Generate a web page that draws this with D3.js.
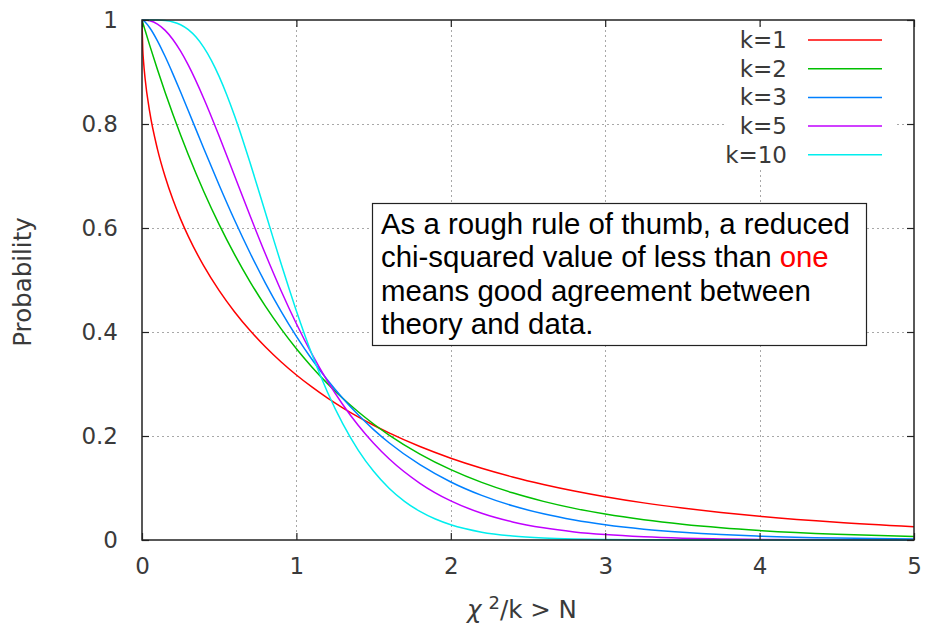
<!DOCTYPE html>
<html>
<head>
<meta charset="utf-8">
<script src="https://cdn.jsdelivr.net/npm/d3@7"></script>
<style>
  html, body { margin: 0; padding: 0; background: #fff; }
  svg { display: block; }
</style>
</head>
<body>
<svg id="chart" width="927" height="631"></svg>
<script>
// P(chi^2/k > N) for several degrees of freedom k
const nGrid = [0, 0.005, 0.01, 0.02, 0.05, 0.1, 0.15, 0.2, 0.25, 0.3,
  0.4, 0.5, 0.6, 0.7, 0.8, 0.9, 1.0, 1.1, 1.2, 1.3, 1.4, 1.5, 1.6,
  1.8, 2.0, 2.2, 2.4, 2.6, 2.8, 3.0,
  3.25, 3.5, 3.75, 4.0, 4.5, 5.0];

const probK1 = [1, 0.9436, 0.9203, 0.8875, 0.8231, 0.7518, 0.6985, 0.6547, 0.6171, 0.5839,
  0.5271, 0.4795, 0.4386, 0.4028, 0.3711, 0.3428, 0.3173, 0.2943, 0.2733, 0.2542, 0.2367, 0.2207, 0.2059,
  0.1797, 0.1573, 0.1380, 0.1213, 0.1069, 0.0943, 0.0833,
  0.0714, 0.0614, 0.0528, 0.0455, 0.0339, 0.0253];

const probK2 = [1, 0.9950, 0.9900, 0.9802, 0.9512, 0.9048, 0.8607, 0.8187, 0.7788, 0.7408,
  0.6703, 0.6065, 0.5488, 0.4966, 0.4493, 0.4066, 0.3679, 0.3329, 0.3012, 0.2725, 0.2466, 0.2231, 0.2019,
  0.1653, 0.1353, 0.1108, 0.0907, 0.0743, 0.0608, 0.0498,
  0.0388, 0.0302, 0.0235, 0.0183, 0.0111, 0.0067];

const probK3 = [1, 0.9995, 0.9986, 0.9962, 0.9852, 0.9600, 0.9297, 0.8964, 0.8614, 0.8254,
  0.7530, 0.6823, 0.6149, 0.5519, 0.4936, 0.4402, 0.3916, 0.3476, 0.3080, 0.2725, 0.2407, 0.2123, 0.1870,
  0.1448, 0.1116, 0.0858, 0.0658, 0.0503, 0.0384, 0.0293,
  0.0208, 0.0148, 0.0104, 0.0074, 0.0037, 0.0018];

const probK5 = [1, 1, 1, 0.9998, 0.9985, 0.9921, 0.9801, 0.9626, 0.9400, 0.9131,
  0.8491, 0.7765, 0.7000, 0.6234, 0.5494, 0.4799, 0.4159, 0.3579, 0.3062, 0.2606, 0.2206, 0.1860, 0.1562,
  0.1091, 0.0752, 0.0514, 0.0348, 0.0234, 0.0156, 0.0104,
  0.0062, 0.0036, 0.0021, 0.0012, 0.0004, 0.0001];

const nGridK10 = [0, 0.05, 0.1, 0.15, 0.2, 0.25, 0.3, 0.35, 0.4, 0.45, 0.5, 0.55, 0.6, 0.65,
  0.7, 0.75, 0.8, 0.85, 0.9, 0.95, 1.0, 1.1, 1.2, 1.3, 1.4, 1.5, 1.6, 1.7, 1.8, 1.9, 2.0,
  2.2, 2.4, 2.6, 2.8, 3.0, 3.5, 4.0, 5.0];

const probK10 = [1, 1.0000, 0.9998, 0.9989, 0.9963, 0.9909, 0.9814, 0.9671, 0.9473, 0.9220, 0.8912, 0.8554, 0.8153, 0.7717,
  0.7254, 0.6775, 0.6288, 0.5801, 0.5321, 0.4854, 0.4405, 0.3575, 0.2851, 0.2237, 0.1730, 0.1321, 0.0996, 0.0744, 0.0550, 0.0403, 0.0293,
  0.0151, 0.0076, 0.0037, 0.0018, 0.0009, 0.0001, 0, 0];

const seriesLabels = ["k=1", "k=2", "k=3", "k=5", "k=10"];
const seriesColors = ["#ff0000", "#00c000", "#0080ff", "#c000ff", "#00eeee"];

const xTicks = [0, 1, 2, 3, 4, 5];
const yTicks = [0, 0.2, 0.4, 0.6, 0.8, 1];

const series = [
  { label: seriesLabels[0], xs: nGrid, ys: probK1 },
  { label: seriesLabels[1], xs: nGrid, ys: probK2 },
  { label: seriesLabels[2], xs: nGrid, ys: probK3 },
  { label: seriesLabels[3], xs: nGrid, ys: probK5 },
  { label: seriesLabels[4], xs: nGridK10, ys: probK10 }
].map((s, i) => ({ ...s, color: seriesColors[i], points: s.xs.map((v, j) => [v, s.ys[j]]) }));

const svg = d3.select("#chart");
const plotLeft = 142, plotRight = 914, plotTop = 20, plotBottom = 540;

const x = d3.scaleLinear().domain([0, 5]).range([plotLeft, plotRight]);
const y = d3.scaleLinear().domain([0, 1]).range([plotBottom, plotTop]);

const tickFont = "'DejaVu Sans', sans-serif";
const textColor = "#3a3a3a";

// grid
const grid = svg.append("g").attr("stroke", "#a8a8a8").attr("stroke-width", 1)
  .attr("stroke-dasharray", "2,3");
xTicks.filter(t => t > 0 && t < 5).forEach(t => {
  grid.append("line").attr("x1", Math.round(x(t)) + 0.5).attr("x2", Math.round(x(t)) + 0.5)
    .attr("y1", plotTop).attr("y2", plotBottom);
});
yTicks.filter(t => t > 0 && t < 1).forEach(t => {
  grid.append("line").attr("y1", Math.round(y(t)) + 0.5).attr("y2", Math.round(y(t)) + 0.5)
    .attr("x1", plotLeft).attr("x2", plotRight);
});

// legend backdrop hides the grid behind the key
svg.append("rect").attr("x", 727).attr("y", 26).attr("width", 170).attr("height", 143)
  .attr("fill", "#fff");

// curves
svg.append("clipPath").attr("id", "plotClip").append("rect")
  .attr("x", plotLeft).attr("y", plotTop - 1).attr("width", plotRight - plotLeft)
  .attr("height", plotBottom - plotTop + 2);

const line = d3.line().x(d => x(d[0])).y(d => y(d[1])).curve(d3.curveMonotoneX);
svg.append("g").attr("clip-path", "url(#plotClip)")
  .selectAll("path").data(series).join("path")
  .attr("d", d => line(d.points))
  .attr("fill", "none")
  .attr("stroke", d => d.color)
  .attr("stroke-width", 1.5);

// frame with mirrored inward ticks
const axisG = svg.append("g");
const xAxisBottom = d3.axisBottom(x).tickValues(xTicks).tickSize(-7).tickPadding(18)
  .tickFormat(d3.format("d"));
const xAxisTop = d3.axisTop(x).tickValues(xTicks).tickSize(-7).tickFormat("");
const yAxisLeft = d3.axisLeft(y).tickValues(yTicks).tickSize(-7).tickPadding(24)
  .tickFormat(d => d === 0 || d === 1 ? String(d) : d3.format(".1f")(d));
const yAxisRight = d3.axisRight(y).tickValues(yTicks).tickSize(-7).tickFormat("");

function styleAxis(g) {
  g.select(".domain").remove();
  g.selectAll(".tick line").attr("stroke", "#222").attr("stroke-width", 1.2);
  g.selectAll(".tick text").attr("font-family", tickFont).attr("font-size", 23)
    .attr("fill", textColor);
}
axisG.append("g").attr("transform", `translate(0,${plotBottom})`).call(xAxisBottom).call(styleAxis);
axisG.append("g").attr("transform", `translate(0,${plotTop})`).call(xAxisTop).call(styleAxis);
axisG.append("g").attr("transform", `translate(${plotLeft},0)`).call(yAxisLeft).call(styleAxis);
axisG.append("g").attr("transform", `translate(${plotRight},0)`).call(yAxisRight).call(styleAxis);

axisG.append("rect").attr("x", plotLeft).attr("y", plotTop)
  .attr("width", plotRight - plotLeft).attr("height", plotBottom - plotTop)
  .attr("fill", "none").attr("stroke", "#222").attr("stroke-width", 1.5);

// legend
const legend = svg.append("g");
series.forEach((s, i) => {
  const ly = 40 + i * 28.7;
  legend.append("text").attr("x", 787).attr("y", ly).attr("dy", "0.35em")
    .attr("text-anchor", "end").attr("font-family", tickFont).attr("font-size", 23)
    .attr("fill", textColor).text(s.label);
  legend.append("line").attr("x1", 808).attr("x2", 882).attr("y1", ly).attr("y2", ly)
    .attr("stroke", s.color).attr("stroke-width", 1.5);
});

// axis titles
svg.append("text").attr("transform", "translate(31,282) rotate(-90)")
  .attr("text-anchor", "middle").attr("font-family", tickFont).attr("font-size", 24.5)
  .attr("fill", textColor).text("Probability");

const xTitle = svg.append("text").attr("x", 522).attr("y", 618)
  .attr("text-anchor", "middle").attr("font-family", tickFont).attr("font-size", 24.5)
  .attr("fill", textColor);
xTitle.append("tspan").attr("font-style", "italic").text("χ");
xTitle.append("tspan").attr("dx", 7).attr("dy", -9).attr("font-size", 18).text("2");
xTitle.append("tspan").attr("dy", 9).text("/k > N");

// annotation box
const note = svg.append("g");
note.append("rect").attr("x", 372.5).attr("y", 203.5).attr("width", 494).attr("height", 142)
  .attr("fill", "#fff").attr("stroke", "#222").attr("stroke-width", 1.2);
const noteLines = [
  [["As a rough rule of thumb, a reduced", "#000"]],
  [["chi-squared value of less than ", "#000"], ["one", "#ff0000"]],
  [["means good agreement between", "#000"]],
  [["theory and data.", "#000"]]
];
noteLines.forEach((parts, i) => {
  const t = note.append("text").attr("x", 381).attr("y", 234 + i * 33.3)
    .attr("font-family", "'Liberation Sans', Arial, sans-serif").attr("font-size", 29.4);
  parts.forEach(([txt, col]) => t.append("tspan").attr("fill", col).text(txt));
});
</script>
</body>
</html>
